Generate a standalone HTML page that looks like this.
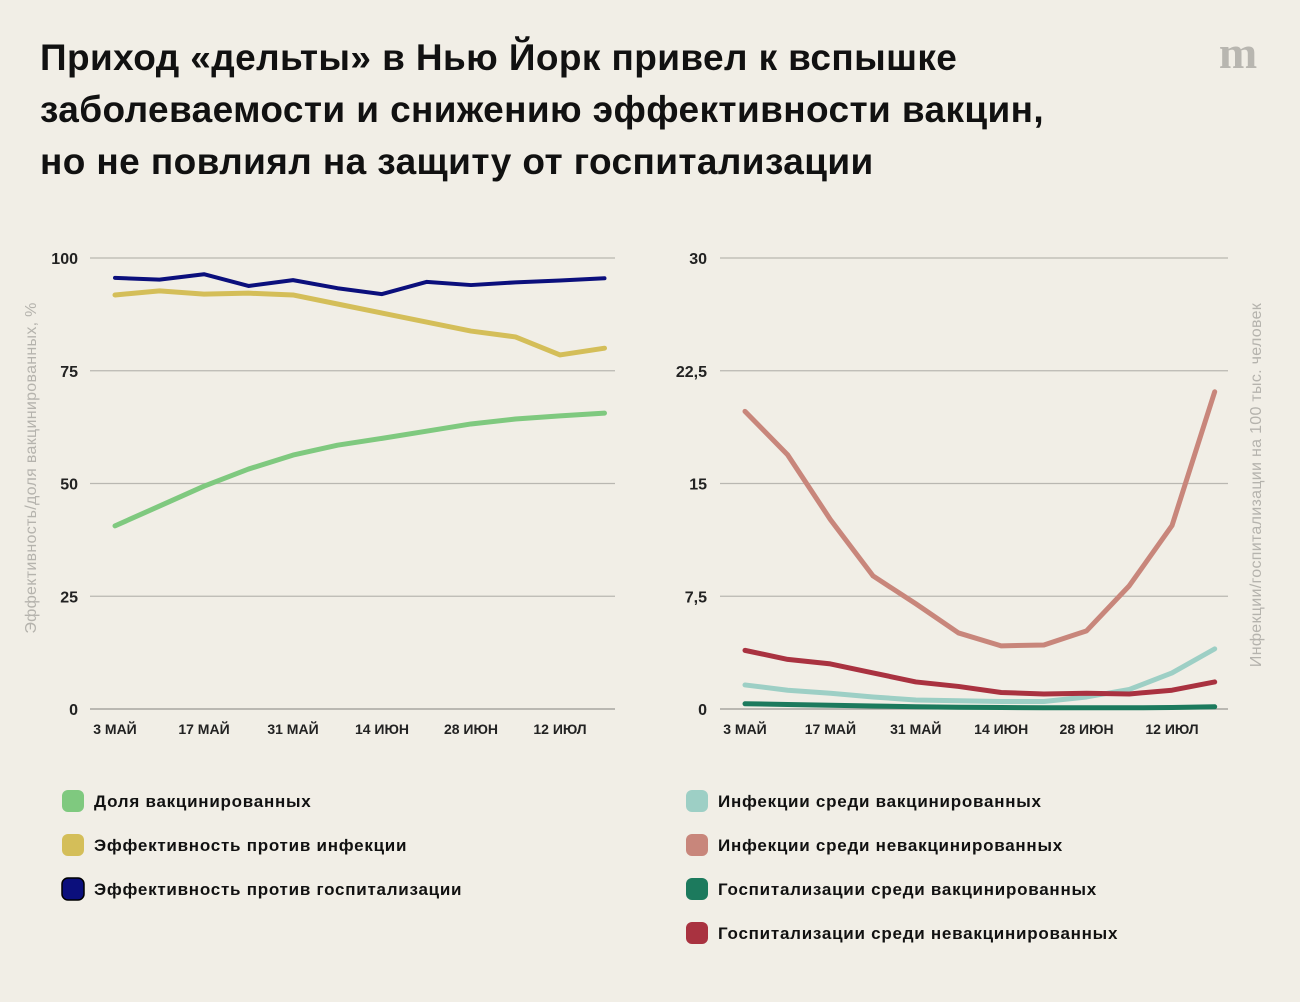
<!DOCTYPE html>
<html><head><meta charset="utf-8">
<style>
body{margin:0;background:#f1eee6;font-family:"Liberation Sans","DejaVu Sans",sans-serif;}
#wrap{position:relative;width:1300px;height:1002px;overflow:hidden;background:#f1eee6}
h1{position:absolute;left:40px;top:32px;margin:0;font-size:37px;line-height:52px;font-weight:bold;color:#111;letter-spacing:0.4px;white-space:nowrap}
</style></head><body>
<div id="wrap">
<h1>Приход «дельты» в Нью Йорк привел к вспышке<br>заболеваемости и снижению эффективности вакцин,<br>но не повлиял на защиту от госпитализации</h1>
<svg id="svg" width="1300" height="1002" style="position:absolute;left:0;top:0">
<text x="1238" y="68" font-family="Liberation Serif,serif" font-weight="bold" font-size="46" fill="#b8b6b0" text-anchor="middle">m</text>
</svg>
</div>
<script>
const xLabels=["3 МАЙ","17 МАЙ","31 МАЙ","14 ИЮН","28 ИЮН","12 ИЮЛ"];
const leftTicks=["0","25","50","75","100"];
const leftTickVals=[0,25,50,75,100];
const rightTicks=["0","7,5","15","22,5","30"];
const rightTickVals=[0,7.5,15,22.5,30];
const vaccShare=[40.6,45,49.4,53.2,56.3,58.5,60,61.6,63.2,64.3,65,65.6];
const effInfection=[91.8,92.7,92,92.2,91.8,89.8,87.8,85.8,83.8,82.5,78.5,80];
const effHosp=[95.6,95.2,96.4,93.8,95.1,93.3,92,94.7,94,94.6,95,95.5];
const infVacc=[1.6,1.25,1.05,0.8,0.6,0.55,0.5,0.5,0.8,1.3,2.4,4];
const infUnvacc=[19.8,16.9,12.6,8.85,7,5.06,4.2,4.26,5.2,8.2,12.2,21.1];
const hospVacc=[0.35,0.3,0.25,0.2,0.15,0.12,0.1,0.08,0.08,0.08,0.1,0.15];
const hospUnvacc=[3.9,3.3,3,2.4,1.8,1.5,1.1,1.0,1.05,1.0,1.25,1.8];

const svg=document.getElementById('svg');
const NS='http://www.w3.org/2000/svg';
function mk(tag,attrs,parent){const e=document.createElementNS(NS,tag);for(const k in attrs)e.setAttribute(k,attrs[k]);(parent||svg).appendChild(e);return e;}
const y0=709,yTop=258;

function chart(cfg){
  const yS=v=>y0-(v/cfg.max)*(y0-yTop);
  const xS=i=>cfg.x0+i*cfg.step;
  cfg.tickVals.forEach((v,i)=>{
    const l=mk('line',{x1:cfg.gx0,x2:cfg.gx1,y1:yS(v),y2:yS(v),stroke:i==0?'#9a9893':'#b9b7b1','stroke-width':1.2});
    
    
    const t=mk('text',{x:cfg.tickX,y:yS(v)+6,'text-anchor':'end','font-size':16,'font-weight':'bold',fill:'#222'});
    t.textContent=cfg.ticks[i];
    
    
  });
  xLabels.forEach((s,i)=>{
    const t=mk('text',{x:xS(i*2),y:734,'text-anchor':'middle','font-size':14,'font-weight':'bold',fill:'#222'});
    t.textContent=s;
    
    
  });
  const tt=mk('text',{transform:`translate(${cfg.titleX},${cfg.titleY}) rotate(-90)`,'text-anchor':'middle','font-size':16,fill:'#b5b3ad','letter-spacing':0.3});
  tt.textContent=cfg.title;
  
  
  cfg.series.forEach(s=>{
    const p=mk('polyline',{points:s.d.map((v,i)=>xS(i)+','+yS(v)).join(' '),fill:'none',stroke:s.c,'stroke-width':s.w||5,'stroke-linejoin':'round','stroke-linecap':'round'});
    
    
  });
}
chart({max:100,x0:115,step:44.5,gx0:90,gx1:615,tickX:78,ticks:leftTicks,tickVals:leftTickVals,titleX:36,titleY:468,
  title:'Эффективность/доля вакцинированных, %',
  series:[{d:vaccShare,c:'#7fc97f',n:'line-vacc-share'},{d:effInfection,c:'#d4be59',n:'line-eff-infection'},{d:effHosp,c:'#0b0f7c',n:'line-eff-hosp',w:4}]});
chart({max:30,x0:745,step:42.7,gx0:720,gx1:1228,tickX:707,ticks:rightTicks,tickVals:rightTickVals,titleX:1261,titleY:485,
  title:'Инфекции/госпитализации на 100 тыс. человек',
  series:[{d:infVacc,c:'#9dcfc5',n:'line-inf-vacc'},{d:infUnvacc,c:'#c8867b',n:'line-inf-unvacc'},{d:hospVacc,c:'#1c7a5d',n:'line-hosp-vacc'},{d:hospUnvacc,c:'#a93240',n:'line-hosp-unvacc'}]});

const legends=[[62,801,'#7fc97f','Доля вакцинированных'],[62,845,'#d4be59','Эффективность против инфекции'],[62,889,'#0b0f7c','Эффективность против госпитализации'],
[686,801,'#9dcfc5','Инфекции среди вакцинированных'],[686,845,'#c8867b','Инфекции среди невакцинированных'],[686,889,'#1c7a5d','Госпитализации среди вакцинированных'],[686,933,'#a93240','Госпитализации среди невакцинированных']];
legends.forEach(l=>{
  const g=mk('g',{});
  
  
  mk('rect',{x:l[0],y:l[1]-11,width:22,height:22,rx:6,fill:l[2],stroke:l[2]=='#0b0f7c'?'#000':'none','stroke-width':1.5},g);
  const t=mk('text',{x:l[0]+32,y:l[1]+6,'font-size':17,'font-weight':'bold',fill:'#111','letter-spacing':0.75},g);
  t.textContent=l[3];
});
</script>
</body></html>
